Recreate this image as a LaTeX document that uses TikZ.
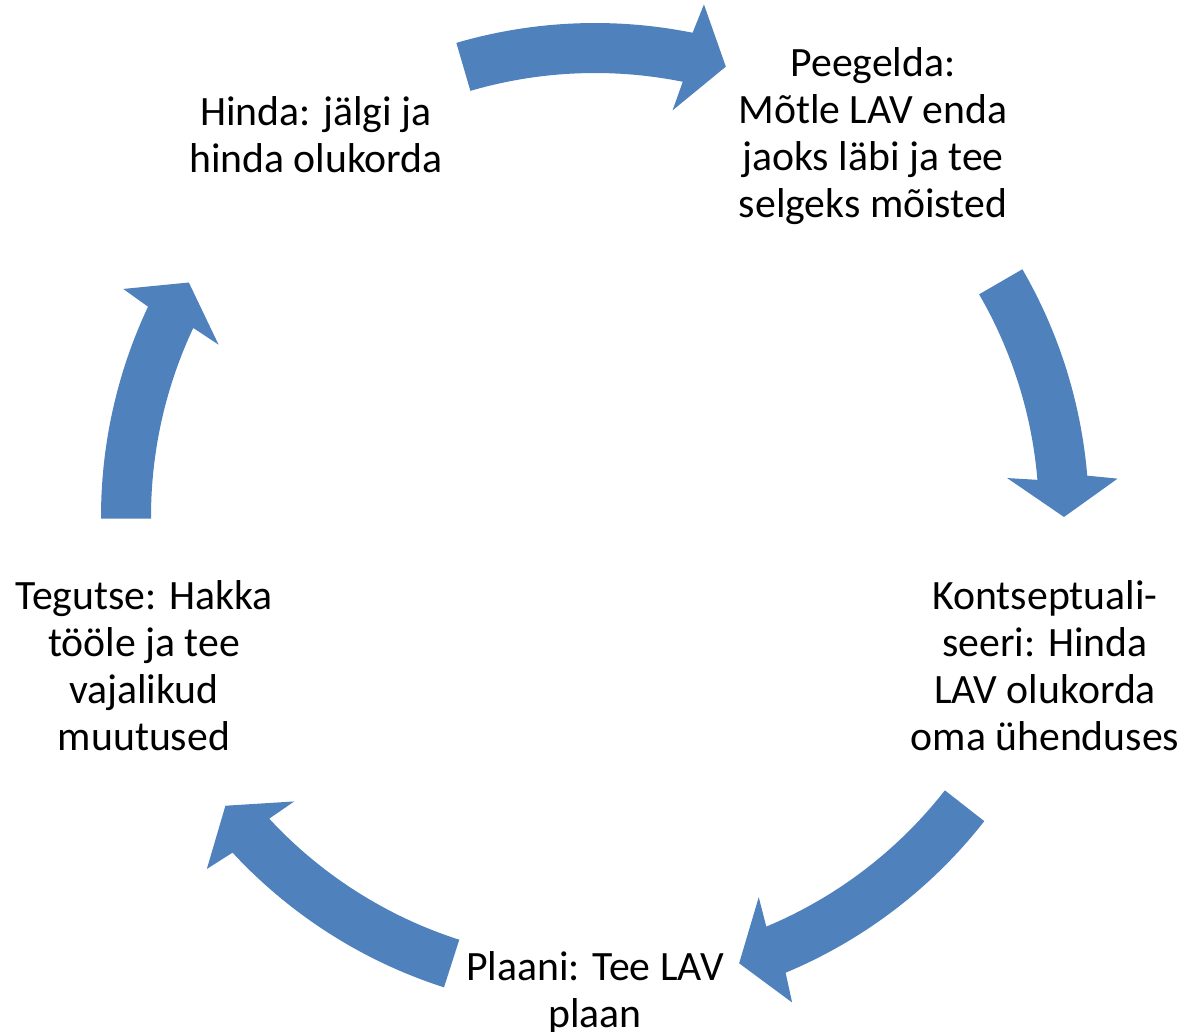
\documentclass[tikz,border=0pt]{standalone}
\usepackage{fontspec}
\setmainfont{Carlito}
\definecolor{cycblue}{RGB}{79,129,189}
\newcommand{\cycarrow}[2]{%
  \pgfmathsetmacro{\hb}{#2+4.8}%
  \pgfmathsetmacro{\hbo}{\hb-0.6}%
  \pgfmathsetmacro{\hbi}{\hb+0.6}%
  \fill[cycblue] (#1:494) arc[start angle=#1,end angle=\hb,radius=494]
    -- (\hbo:524) -- (#2:469) -- (\hbi:414) -- (\hb:444)
    arc[start angle=\hb,end angle=#1,radius=444] -- cycle;}
\begin{document}
\begin{tikzpicture}[x=0.75pt,y=0.75pt,
  steptext/.style={align=center,inner sep=0pt,text=black,
    font=\fontsize{31.3}{35.25}\selectfont}]
\useasboundingbox (-595,-515) rectangle (591,517);
\cycarrow{106.3}{73.8}
\cycarrow{30.1}{0}
\cycarrow{-38}{-72.1}
\cycarrow{-107.8}{-142}
\cycarrow{180.2}{150}
\node[steptext] (hinda) at (-279,382) {Hinda: jälgi ja\\hinda olukorda};
\node[steptext] (peeg) at (278,381) {Peegelda:\\Mõtle LAV enda\\jaoks läbi ja tee\\selgeks mõisted};
\node[steptext] (kont) at (450,-148.5) {Kontseptuali-\\seeri: Hinda\\LAV olukorda\\oma ühenduses};
\node[steptext] (plaan) at (0,-475.5) {Plaani: Tee LAV\\plaan};
\node[steptext] (teg) at (-451,-148.5) {Tegutse: Hakka\\tööle ja tee\\vajalikud\\muutused};
\end{tikzpicture}
\end{document}
